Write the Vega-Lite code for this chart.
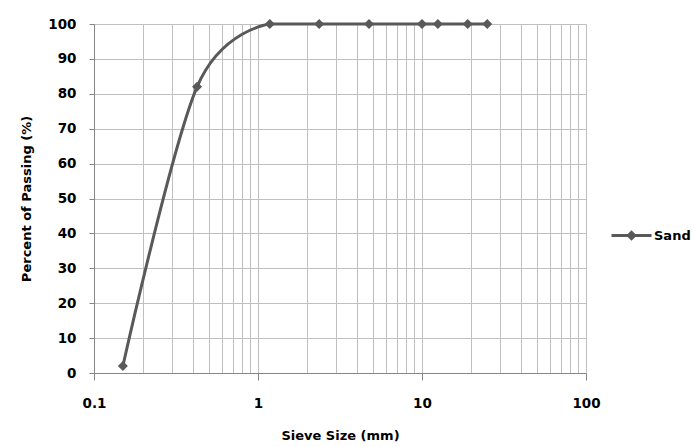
{
  "$schema": "https://vega.github.io/schema/vega-lite/v6.json",
  "width": 492,
  "height": 349,
  "autosize": "none",
  "padding": {"left": 94, "top": 24, "right": 108, "bottom": 74},
  "background": "white",
  "config": {"view": {"stroke": null}, "font": "DejaVu Sans"},
  "data": {
    "values": [
      {"size": 0.15, "pass": 2, "series": "Sand"},
      {"size": 0.425, "pass": 82, "series": "Sand"},
      {"size": 1.18, "pass": 100, "series": "Sand"},
      {"size": 2.36, "pass": 100, "series": "Sand"},
      {"size": 4.75, "pass": 100, "series": "Sand"},
      {"size": 10, "pass": 100, "series": "Sand"},
      {"size": 12.5, "pass": 100, "series": "Sand"},
      {"size": 19, "pass": 100, "series": "Sand"},
      {"size": 25, "pass": 100, "series": "Sand"}
    ]
  },
  "encoding": {
    "x": {
      "field": "size",
      "type": "quantitative",
      "scale": {"type": "log", "domain": [0.1, 100], "nice": false},
      "axis": {
        "title": "Sieve Size (mm)",
        "values": [0.1, 0.2, 0.3, 0.4, 0.5, 0.6, 0.7, 0.8, 0.9, 1, 2, 3, 4, 5, 6, 7, 8, 9, 10, 20, 30, 40, 50, 60, 70, 80, 90, 100],
        "format": "~g",
        "labelExpr": "datum.value == 0.1 || datum.value == 1 || datum.value == 10 || datum.value == 100 ? datum.label : ''",
        "grid": true,
        "gridColor": "#bfbfbf",
        "gridWidth": 1,
        "domainColor": "#868686",
        "tickColor": "#868686",
        "tickSize": 7,
        "tickOpacity": {"condition": {"test": "datum.value == 0.1 || datum.value == 1 || datum.value == 10 || datum.value == 100", "value": 1}, "value": 0},
        "labelPadding": 16,
        "labelFont": "DejaVu Sans",
        "labelFontWeight": "bold",
        "labelFontSize": 13.5,
        "labelColor": "black",
        "labelOverlap": false,
        "labelFlush": false,
        "titleFont": "DejaVu Sans",
        "titleFontSize": 13,
        "titleFontWeight": "bold",
        "titleColor": "black",
        "titlePadding": 20
      }
    },
    "y": {
      "field": "pass",
      "type": "quantitative",
      "scale": {"domain": [0, 100], "nice": false},
      "axis": {
        "title": "Percent of Passing (%)",
        "values": [0, 10, 20, 30, 40, 50, 60, 70, 80, 90, 100],
        "grid": true,
        "gridColor": "#bfbfbf",
        "gridWidth": 1,
        "domainColor": "#868686",
        "tickColor": "#868686",
        "tickSize": 5,
        "labelPadding": 13,
        "labelFont": "DejaVu Sans",
        "labelFontWeight": "bold",
        "labelFontSize": 13.5,
        "labelColor": "black",
        "labelFlush": false,
        "labelOverlap": false,
        "titleFont": "DejaVu Sans",
        "titleFontSize": 13,
        "titleFontWeight": "bold",
        "titleColor": "black",
        "titlePadding": 14
      }
    }
  },
  "layer": [
    {
      "transform": [{"filter": "datum.size <= 1.18"}],
      "mark": {"type": "line", "interpolate": "cardinal", "tension": 0, "strokeWidth": 3},
      "encoding": {
        "color": {
          "field": "series",
          "type": "nominal",
          "scale": {"range": ["#595959"]},
          "legend": {
            "orient": "none",
            "legendX": 516,
            "legendY": 190,
            "title": null,
            "padding": 0,
            "symbolType": "M-1,0H1M-0.16,0L0,-0.16L0.16,0L0,0.16Z",
            "symbolSize": 1600,
            "symbolStrokeWidth": 3,
            "symbolStrokeColor": "#595959",
            "symbolFillColor": "#595959",
            "labelFont": "DejaVu Sans",
            "labelFontWeight": "bold",
            "labelFontSize": 13,
            "labelColor": "black",
            "labelOffset": 1
          }
        }
      }
    },
    {
      "transform": [{"filter": "datum.size >= 1.18"}],
      "mark": {"type": "line", "strokeWidth": 3, "color": "#595959"},
      "encoding": {}
    },
    {
      "mark": {"type": "point", "shape": "diamond", "filled": true, "size": 100, "opacity": 1, "color": "#595959"},
      "encoding": {}
    }
  ]
}
